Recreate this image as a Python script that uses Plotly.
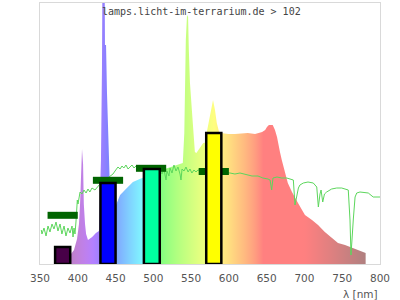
import plotly.graph_objects as go

# ---------------- data ----------------
spec_wl = [380, 389, 391, 395, 399, 401.6, 403, 404.3, 405.6, 407, 408, 409.6, 411, 413.5, 419, 424, 428,
           430.7, 432, 433.4, 434.7, 436, 437.4, 438.7, 440, 441, 442.6, 445, 449, 450.6, 456, 465, 473, 482, 486,
           495.6, 507.5, 515.4, 522, 528.7, 535, 539, 541, 542, 543, 544.6, 546, 547, 548.5, 551, 553, 555, 557,
           562, 566, 568, 572, 575, 577.6, 579, 581.6, 584, 587, 589.6, 599, 608, 625, 634.6, 644, 648, 650.4,
           653, 658, 661, 663.7, 665, 667.6, 670, 674, 678, 683.5, 687.5, 691.5, 696.8, 700.7, 710, 718, 727,
           736.5, 744.4, 753.7, 763, 771, 776, 781]
spec_val = [8, 9, 10, 14, 25, 40, 60, 90, 115, 100, 60, 40, 30, 24, 27, 31, 33,
            104, 195, 400, 400, 219, 219, 170, 130, 95, 75, 60, 57, 59, 69, 76, 82, 85, 86,
            89, 93, 95, 97, 99, 100, 101, 131, 174, 224, 249, 247, 214, 181, 154, 131, 112, 111,
            117, 121, 121, 137, 147, 157, 164, 154, 141, 132, 131, 130, 130, 131, 130, 132, 134, 137,
            139, 139, 134, 127, 121, 112, 104, 92, 81, 72, 66, 61, 54, 49, 44, 39, 32,
            26, 21, 19, 16, 14, 12, 11]

line_wl = [351.7, 352.6, 355.3, 358, 360.6, 363.2, 365.9, 368.5, 371.2, 373.8, 376.5, 379, 381.8, 384.4, 387,
           389.7, 392.4, 393.7, 395, 396.3, 397.6, 399.4, 400.3, 403, 405.6, 408.2, 411, 413.5, 416, 418.8,
           422.8, 429.4, 436, 442.6, 446.6, 449.3, 453.2, 456, 458.5, 461, 463.8, 466.5, 469, 471.8, 474.4,
           477, 479.7, 482.4, 495, 508.8, 511.5, 514, 516.8, 518, 520.7, 522, 524.7, 527.3, 530, 532.6, 535.3,
           536.6, 538, 540.6, 543.2, 546, 548.5, 551, 553.8, 556.5, 559, 580, 601.5, 608, 614.7, 623.5, 630.6,
           638.5, 645, 651.8, 654.5, 656.6, 658.4, 663.7, 670, 676.5, 683, 685.3, 687.5, 689.7, 692, 694,
           698.5, 704.7, 711.7, 716.3, 718.4, 720.6, 722, 724.2, 726.5, 729.4, 736, 742.7, 749.3, 758,
           760.3, 761.6, 763, 764.7, 767, 769.2, 773.5, 784.5, 791, 800]
line_val = [34, 30, 36, 28, 38, 32, 40, 35, 42, 33, 40, 30, 38, 28, 36,
            31, 38, 27, 36, 30, 42, 64, 60, 72, 70, 74, 71, 75, 72, 76,
            74, 80, 84, 88, 90, 93, 97, 95, 98, 96, 99, 95, 97, 99, 96,
            98, 96, 97, 96, 94, 90, 95, 84, 93, 88, 96, 91, 99, 93, 97, 90,
            84, 95, 93, 97, 92, 95, 91, 94, 92, 94, 92, 91, 90, 91, 89, 88,
            88, 86, 85, 84, 74, 86, 87, 86, 86, 84, 84, 59, 67, 76, 79,
            81, 82, 81, 77, 57, 70, 74, 62, 70, 72, 75, 76, 76, 74,
            44, 9, 31, 45, 67, 71, 72, 71, 67, 67]

bar_wl = [380, 440, 498, 580]
bar_val = [17, 81, 95, 131]
bar_width = [20, 20, 21, 20]
bar_colors = ["#480048", "#0000ff", "#00ffa0", "#ffff00"]

mark_wl = [380, 440, 497, 580]
mark_val = [48.7, 83.7, 95.7, 92.5]
mark_width = 40
mark_thick = 7

x_ticks = [350, 400, 450, 500, 550, 600, 650, 700, 750, 800]
title_text = "lamps.licht-im-terrarium.de > 102"
x_label = "λ [nm]"


# ---------------- colours (style) ----------------
def wl_rgb(w):
    if w < 440:
        r, g, b = -(w - 440) / 60, 0, 1
    elif w < 490:
        r, g, b = 0, (w - 440) / 50, 1
    elif w < 510:
        r, g, b = 0, 1, -(w - 510) / 20
    elif w < 580:
        r, g, b = (w - 510) / 70, 1, 0
    elif w < 645:
        r, g, b = 1, -(w - 645) / 65, 0
    else:
        r, g, b = 1, 0, 0
    if w < 420:
        f = 0.3 + 0.7 * (w - 380) / 40
    elif w > 700:
        f = 0.3 + 0.7 * (780 - w) / 80
    else:
        f = 1.0
    out = []
    for c in (r, g, b):
        v = 0 if c <= 0 else (c * f) ** 0.8
        out.append(int(round((v * 255 + 255) / 2)))
    return "rgb(%d,%d,%d)" % tuple(out)


g_start, g_stop = 380, 781
cs = []
for i in range(0, 81):
    w = g_start + (g_stop - g_start) * i / 80
    cs.append([i / 80, wl_rgb(min(w, 780))])

fig = go.Figure()

# spectrum
fig.add_trace(go.Scatter(
    x=spec_wl, y=spec_val, mode="lines", line=dict(width=0),
    fill="tozeroy",
    fillgradient=dict(type="horizontal", colorscale=cs, start=g_start, stop=g_stop),
    hoverinfo="skip", showlegend=False))

# thin green curve
fig.add_trace(go.Scatter(
    x=line_wl, y=line_val, mode="lines", line=dict(color="#5cd65c", width=1),
    showlegend=False))

# dark green markers
for c, v in zip(mark_wl, mark_val):
    x0, x1 = c - mark_width / 2, c + mark_width / 2
    y0, y1 = v - mark_thick / 2, v + mark_thick / 2
    fig.add_trace(go.Scatter(
        x=[x0, x0, x1, x1, x0], y=[y0, y1, y1, y0, y0], mode="lines",
        fill="toself", fillcolor="#006400", line=dict(width=0, color="#006400"),
        showlegend=False))

# outlined bars
for c, v, wd, col in zip(bar_wl, bar_val, bar_width, bar_colors):
    x0, x1 = c - wd / 2, c + wd / 2
    fig.add_trace(go.Scatter(
        x=[x0, x0, x1, x1, x0], y=[0, v, v, 0, 0], mode="lines",
        fill="toself", fillcolor=col, line=dict(width=2.5, color="black"),
        showlegend=False))

fig.update_layout(
    width=400, height=300,
    margin=dict(l=40, r=20, t=3, b=36),
    paper_bgcolor="white", plot_bgcolor="white",
    font=dict(family="DejaVu Sans", size=10.5, color="#555"),
    xaxis=dict(range=[350, 800], tickvals=x_ticks, ticktext=[str(t) for t in x_ticks],
               showgrid=False, zeroline=False, showline=True, mirror=True,
               linecolor="#d9d9d9", linewidth=1, ticks="outside", ticklen=4,
               tickcolor="rgba(0,0,0,0)", tickfont=dict(size=10.5, color="#555")),
    yaxis=dict(range=[0, 261], showgrid=False, zeroline=False, showline=True, mirror=True,
               linecolor="#d9d9d9", linewidth=1, showticklabels=False, ticks=""),
    annotations=[
        dict(text=title_text, xref="paper", yref="paper", x=(201 - 40) / 340, y=(264 - 11) / 261,
             xanchor="center", yanchor="middle", showarrow=False,
             font=dict(family="DejaVu Sans Mono", size=10, color="#444")),
        dict(text=x_label, xref="paper", yref="paper", x=(380 - 40) / 340, y=(264 - 294) / 261,
             xanchor="right", yanchor="middle", showarrow=False,
             font=dict(family="DejaVu Sans", size=10.5, color="#555")),
    ],
)

fig.write_html("out.html")
